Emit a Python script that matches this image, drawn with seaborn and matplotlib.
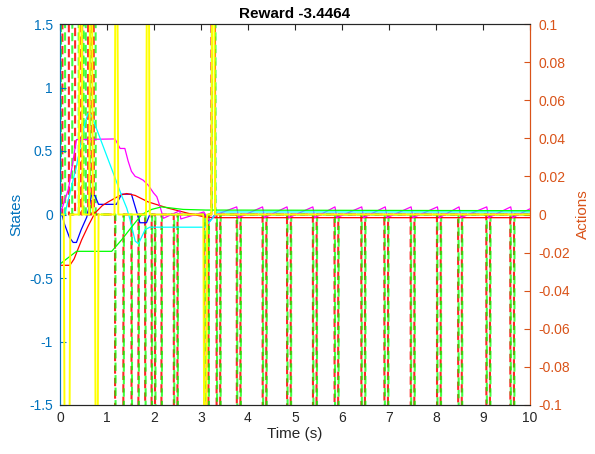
import numpy as np
import pandas as pd
import matplotlib
matplotlib.use("Agg")
import matplotlib.pyplot as plt
import seaborn as sns
from matplotlib.ticker import FuncFormatter

# ---- states (left axis), piecewise values ----
blue_t = [0, 0.04, 0.1, 0.2, 0.28, 0.35, 0.45, 0.57, 0.67, 0.74, 0.82, 1.2, 1.31, 1.52, 1.70, 1.84, 1.91, 3.08, 3.18, 3.3, 10]
blue_v = [0, 0, -0.08, -0.18, -0.22, -0.22, -0.12, -0.02, 0.15, 0.15, 0.08, 0.08, 0.16, 0.16, -0.065, -0.065, 0.0, 0.0, -0.055, 0.0, 0.0]

red_t = [0, 0.21, 0.3, 0.46, 0.6, 0.74, 0.9, 1.03, 1.2, 1.31, 1.42, 1.6, 1.87, 2.3, 2.72, 3.09, 3.3, 10]
red_v = [-0.4, -0.4, -0.35, -0.2, -0.09, 0.01, 0.07, 0.1, 0.135, 0.155, 0.165, 0.15, 0.1, 0.05, 0.01, -0.02, -0.025, -0.025]

mag_t = [0, 0.18, 0.35, 1.17, 1.28, 1.38, 1.45, 1.52, 1.6, 1.67, 1.77, 1.88, 1.99, 2.06, 2.13, 2.2,
         2.55, 2.57, 3.06, 3.18, 3.33, 3.76, 3.8, 4.31, 4.35, 4.83, 4.87, 5.38, 5.42, 5.85, 5.89,
         6.42, 6.46, 6.92, 6.96, 7.47, 7.51, 8.03, 8.07, 8.49, 8.53, 9.08, 9.12, 9.59, 9.63, 10]
mag_v = [0, 0.2, 0.59, 0.595, 0.52, 0.52, 0.42, 0.34, 0.3, 0.29, 0.27, 0.23, 0.17, 0.14, 0.06, -0.03,
         0.03, -0.035, 0.02, -0.05, 0.0, 0.06, -0.025, 0.06, -0.025, 0.06, -0.025, 0.06, -0.025, 0.06, -0.025,
         0.06, -0.025, 0.06, -0.025, 0.06, -0.025, 0.06, -0.025, 0.06, -0.025, 0.06, -0.025, 0.06, -0.025, 0.045]

cyan_t = [0, 0.1, 0.35, 0.53, 0.6, 0.67, 1.17, 1.31, 1.42, 1.49, 1.6, 1.67, 1.81, 1.91, 3.09, 3.2, 3.35, 10]
cyan_v = [0, 0, 0.38, 0.72, 0.8, 0.78, 0.29, 0.15, 0.05, -0.04, -0.21, -0.23, -0.12, -0.1, -0.1, -0.05, 0.02, 0.02]

green_t = [0, 0.21, 0.35, 1.1, 1.31, 1.52, 1.74, 1.95, 2.16, 2.62, 3.1, 10]
green_v = [-0.39, -0.33, -0.29, -0.29, -0.2, -0.1, 0.0, 0.04, 0.06, 0.04, 0.035, 0.03]

yel_t = [0, 0.08, 0.12, 0.18, 0.22, 0.4, 0.44, 0.48, 0.62, 0.66, 0.7, 0.74, 0.78, 0.82, 1.16, 1.2, 1.24,
         1.83, 1.87, 1.91, 3.05, 3.09, 3.13, 3.22, 3.26, 3.3, 10]
yel_v = [0, 0, -4, -4, 0, 0, 4, 0, 0, 4, 0, 0, -4, 0, 0, 4, 0, 0, 4, 0, 0, -4, 0, 0, 4, 0, 0]

# ---- actions (right axis): pulses (start, end, value) ----
red_pulses = [(0.05, 0.19, 1), (0.32, 0.45, 1), (0.47, 0.6, 1), (0.67, 0.72, 1),
              (1.17, 1.35, -1), (1.52, 1.67, -1), (1.81, 1.95, -1), (2.02, 2.16, -1), (2.42, 2.5, -1),
              (3.07, 3.16, -1), (3.22, 3.3, 1), (3.33, 3.41, -1), (3.76, 3.84, -1), (4.31, 4.39, -1),
              (4.83, 4.91, -1), (5.38, 5.46, -1), (5.84, 5.92, -1), (6.41, 6.49, -1), (6.9, 6.98, -1),
              (7.46, 7.54, -1), (8.02, 8.1, -1), (8.47, 8.55, -1), (9.07, 9.15, -1), (9.58, 9.66, -1)]
green_pulses = [(0.02, 0.11, 1), (0.26, 0.4, 1), (0.5, 0.55, 1), (0.64, 0.76, 1),
                (1.18, 1.36, -1), (1.53, 1.68, -1), (1.82, 1.96, -1), (2.03, 2.17, -1), (2.43, 2.51, -1),
                (3.08, 3.17, -1), (3.23, 3.31, 1), (3.34, 3.42, -1), (3.77, 3.85, -1), (4.32, 4.4, -1),
                (4.84, 4.92, -1), (5.39, 5.47, -1), (5.85, 5.93, -1), (6.42, 6.5, -1), (6.91, 6.99, -1),
                (7.47, 7.55, -1), (8.03, 8.11, -1), (8.48, 8.56, -1), (9.08, 9.16, -1), (9.59, 9.67, -1)]

x_ticks = list(range(0, 11))
left_ticks = [-1.5, -1, -0.5, 0, 0.5, 1, 1.5]
right_ticks = [-0.1, -0.08, -0.06, -0.04, -0.02, 0, 0.02, 0.04, 0.06, 0.08, 0.1]


def pulse_series(pulses):
    t, v = [0], [0]
    for s, e, val in pulses:
        t += [s, s + 0.02, e - 0.02, e]
        v += [0, val, val, 0]
    t.append(10)
    v.append(0)
    return pd.DataFrame({"t": t, "v": v})


sns.set_style("white")
plt.rcParams['font.family'] = ['Liberation Sans', 'DejaVu Sans']
plt.rcParams['axes.unicode_minus'] = False

blue_c = '#0072BD'
orange_c = '#D95319'
dark = '#262626'

fig = plt.figure(figsize=(5.95, 4.54), dpi=100)
ax = fig.add_axes([60 / 595, 49 / 454, 470 / 595, 381 / 454])
ax2 = ax.twinx()
# states drawn above the action lines
ax.set_zorder(ax2.get_zorder() + 1)
ax.patch.set_visible(False)

sns.lineplot(data=pulse_series(red_pulses), x="t", y="v", ax=ax2, color='#FF0000', linewidth=1.5,
             alpha=0.85, linestyle=(0, (4, 2)), estimator=None, sort=False, errorbar=None)
sns.lineplot(data=pulse_series(green_pulses), x="t", y="v", ax=ax2, color='#00FF00', linewidth=1.5,
             alpha=0.75, linestyle=(2, (4, 2)), estimator=None, sort=False, errorbar=None)

states = [(blue_t, blue_v, '#0000FF'), (red_t, red_v, '#FF0000'), (mag_t, mag_v, '#FF00FF'),
          (cyan_t, cyan_v, '#00FFFF'), (green_t, green_v, '#00FF00'), (yel_t, yel_v, '#FFFF00')]
for tt, vv, c in states:
    d = pd.DataFrame({"t": tt, "v": vv})
    sns.lineplot(data=d, x="t", y="v", ax=ax, color=c, linewidth=0.9 if c != '#FFFF00' else 1.4,
                 estimator=None, sort=False, errorbar=None)

fmt = FuncFormatter(lambda v, p: f"{v:g}")

ax.set_xlim(0, 10)
ax.set_ylim(-1.5, 1.5)
ax2.set_ylim(-0.1, 0.1)
ax.set_xticks(x_ticks)
ax.set_yticks(left_ticks)
ax2.set_yticks(right_ticks)
ax.xaxis.set_major_formatter(fmt)
ax.yaxis.set_major_formatter(fmt)
ax2.yaxis.set_major_formatter(fmt)

ax.tick_params(axis='x', direction='in', length=4, width=0.8, colors=dark, labelsize=10, top=True, pad=4)
ax.tick_params(axis='y', direction='in', length=4, width=0.8, colors=blue_c, labelsize=10, pad=5)
ax2.tick_params(axis='y', direction='in', length=4, width=0.8, colors=orange_c, labelsize=10, pad=6)

for a in (ax, ax2):
    for side in ('top', 'bottom'):
        a.spines[side].set_color(dark)
        a.spines[side].set_linewidth(0.8)
    a.spines['left'].set_color(blue_c)
    a.spines['right'].set_color(orange_c)
    a.spines['left'].set_linewidth(0.8)
    a.spines['right'].set_linewidth(0.8)

ax.set_xlabel("Time (s)", fontsize=11, color=dark, labelpad=2)
ax.set_ylabel("States", fontsize=11, color=blue_c, labelpad=4)
ax2.set_ylabel("Actions", fontsize=11, color=orange_c, labelpad=4)
ax.set_title("Reward -3.4464", fontsize=11, fontweight='bold', color='black', pad=4)

fig.savefig("out.png", dpi=100)
